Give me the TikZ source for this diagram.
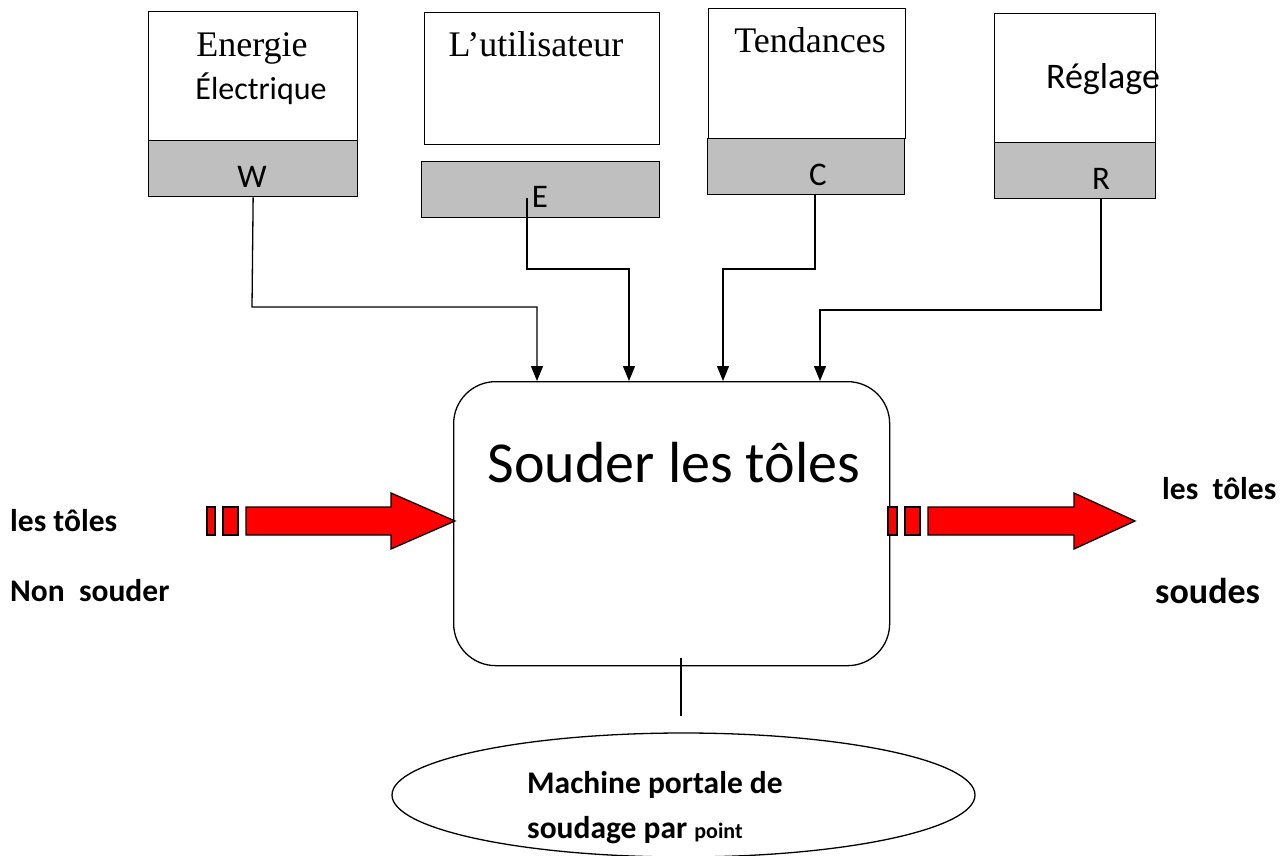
\documentclass[tikz,border=0pt]{standalone}
\usepackage{fontspec}
\setmainfont{Carlito}
\newfontfamily\tnr{Liberation Serif}
\usetikzlibrary{arrows.meta,shapes.geometric}
\tikzset{
  wbox/.style={draw, fill=white, line width=1.3pt, anchor=north west, inner sep=0pt},
  gbox/.style={draw, fill=gray!50, line width=1.3pt, anchor=north west, inner sep=0pt},
  lbl/.style={anchor=base, inner sep=0pt},
  conn/.style={line width=1.3pt, -{Triangle[length=15pt,width=12pt]}},
  plain/.style={line width=1.3pt},
  redarr/.style={draw, fill=red, line width=1.3pt, line join=miter},
  f36/.style={font=\fontsize{36}{40}\selectfont},
  f30/.style={font=\fontsize{33}{36}\selectfont},
  bf/.style={font=\bfseries\fontsize{31.5}{34}\selectfont},
}
\begin{document}
\begin{tikzpicture}[x=1pt,y=-1pt]
\useasboundingbox[fill=white] (0,0) rectangle (1287,856);

% top boxes
\node[wbox, minimum width=209, minimum height=129] (Wt) at (148,11) {};
\node[gbox, minimum width=209, minimum height=56] (Wg) at (148,140) {};
\node[wbox, minimum width=235, minimum height=132] (Et) at (424,12) {};
\node[gbox, minimum width=238, minimum height=56] (Eg) at (421,161) {};
\node[wbox, minimum width=197, minimum height=130] (Ct) at (708,8) {};
\node[gbox, minimum width=197, minimum height=56] (Cg) at (707,138) {};
\node[wbox, minimum width=161, minimum height=129] (Rt) at (994,13) {};
\node[gbox, minimum width=161, minimum height=56] (Rg) at (994,142) {};

\node[lbl, f36] (t1) at (252,57) {\tnr Energie};
\node[lbl, font=\fontsize{32}{36}\selectfont] (t1b) at (261,100) {Électrique};
\node[lbl, f36] (t2) at (536,57) {\tnr L’utilisateur};
\node[lbl, f36] (t3) at (810,53) {\tnr Tendances};
\node[lbl, font=\fontsize{36}{40}\selectfont] (t4) at (1103,89) {Réglage};

\node[lbl, f30] (w) at (252,187) {W};
\node[lbl, f30] (e) at (540,207) {E};
\node[lbl, f30] (c) at (818,185) {C};
\node[lbl, f30] (r) at (1101,189) {R};

% main box
\node[draw, line width=1.3pt, rounded corners=42pt, minimum width=436, minimum height=284, anchor=north west] (M) at (453,381) {};
\node[lbl, font=\fontsize{58}{62}\selectfont] (mt) at (674,482) {Souder les tôles};

% connectors
\coordinate (e0) at (527,198);
\draw[conn] (Wg.south) -- (252,307) -| (537,381);
\draw[conn] (e0) -- (527,269) -| (629,381);
\draw[conn] (815,194) -- (815,269) -| (723,381);
\draw[conn] (1101,198) -- (1101,310) -| (820,381);

% left arrow
\draw[redarr] (207,507) rectangle (215,535);
\draw[redarr] (223,507) rectangle (238,535);
\draw[redarr] (246,507) -- (391,507) -- (391,493) -- (455,521) -- (391,549) -- (391,535) -- (246,535) -- cycle;
% right arrow
\draw[redarr] (888,507) rectangle (897,535);
\draw[redarr] (905,507) rectangle (920,535);
\draw[redarr] (928,507) -- (1074,507) -- (1074,493) -- (1135,521) -- (1074,549) -- (1074,535) -- (928,535) -- cycle;

% side labels
\node[bf, anchor=base west, inner sep=0pt] (l1) at (10,531) {les tôles};
\node[bf, anchor=base west, inner sep=0pt] (l2) at (10,601) {Non\ \ souder};
\node[bf, anchor=base west, inner sep=0pt] (r1) at (1162,499) {les\ \ tôles};
\node[font=\bfseries\fontsize{36}{40}\selectfont, anchor=base west, inner sep=0pt] (r2) at (1155,603) {soudes};

% bottom
\node[draw, ellipse, line width=1.3pt, minimum width=583, minimum height=124, inner sep=0pt] (ell) at (683.5,795) {};
\draw[plain] (681,658) -- (681,716);
\node[bf, anchor=base west, inner sep=0pt] (m1) at (527,793) {Machine portale de};
\node[bf, anchor=base west, inner sep=0pt] (m2) at (527,838) {soudage par {\fontsize{22}{26}\selectfont point}};
\end{tikzpicture}
\end{document}
